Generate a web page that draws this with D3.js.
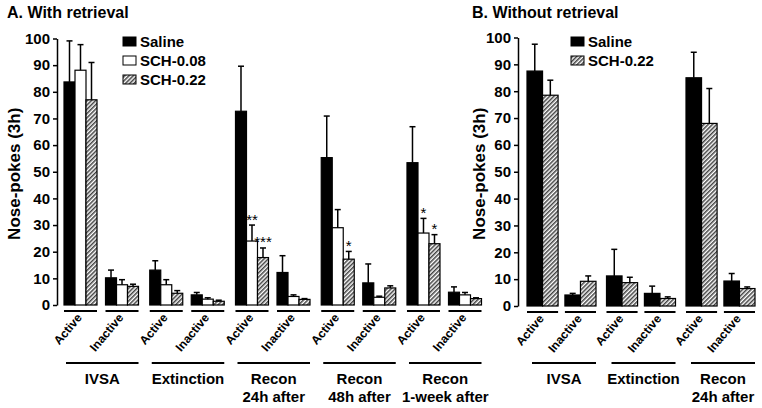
<!DOCTYPE html>
<html><head><meta charset="utf-8">
<script src="https://cdnjs.cloudflare.com/ajax/libs/d3/7.8.5/d3.min.js"></script>
<style>
html,body{margin:0;padding:0;background:#fff;}
svg{display:block;font-family:"Liberation Sans",Arial,sans-serif;}
</style></head>
<body>
<svg id="chart" width="762" height="408"></svg>
<script>
// ---------- DATA ----------
const measures = ["Active", "Inactive"];

// Panel A: With retrieval
const conditionsA = [["IVSA"], ["Extinction"], ["Recon", "24h after"], ["Recon", "48h after"], ["Recon", "1-week after"]];
const seriesA = ["Saline", "SCH-0.08", "SCH-0.22"];
const salineA     = [83.7, 10.2, 13.1, 3.8, 72.7, 12.2, 55.3, 8.3, 53.4, 4.8];
const salineA_sem = [15.4, 2.9, 3.5, 0.9, 16.9, 6.3, 15.6, 7.1, 13.5, 2.0];
const sch008A     = [88.1, 7.6, 7.6, 2.2, 24.0, 3.2, 29.0, 2.9, 27.0, 3.8];
const sch008A_sem = [9.6, 1.9, 1.9, 0.5, 6.0, 0.6, 6.8, 0.4, 5.5, 0.9];
const sch022A     = [77.0, 7.0, 4.4, 1.4, 17.8, 2.1, 17.2, 6.4, 23.0, 2.4];
const sch022A_sem = [14.0, 0.8, 1.0, 0.4, 3.6, 0.3, 2.9, 0.8, 3.4, 0.3];
const starsA = {"SCH-0.08": ["", "", "", "", "**", "", "", "", "*", ""],
                "SCH-0.22": ["", "", "", "", "***", "", "*", "", "*", ""]};

// Panel B: Without retrieval
const conditionsB = [["IVSA"], ["Extinction"], ["Recon", "24h after"]];
const seriesB = ["Saline", "SCH-0.22"];
const salineB     = [87.5, 4.1, 11.2, 4.7, 85.0, 9.3];
const salineB_sem = [10.0, 0.6, 9.9, 2.7, 9.5, 2.8];
const sch022B     = [78.5, 9.2, 8.7, 2.8, 68.0, 6.5];
const sch022B_sem = [5.6, 2.0, 2.0, 0.6, 13.0, 0.6];

const yTicks = [0, 10, 20, 30, 40, 50, 60, 70, 80, 90, 100];

// ---------- DRAW ----------
const svg = d3.select("#chart");
const defs = svg.append("defs");
const pat = defs.append("pattern").attr("id", "hatch")
  .attr("patternUnits", "userSpaceOnUse").attr("width", 3).attr("height", 3)
  .attr("patternTransform", "rotate(45)");
pat.append("rect").attr("width", 3).attr("height", 3).attr("fill", "#fff");
pat.append("line").attr("x1", 0.8).attr("y1", 0).attr("x2", 0.8).attr("y2", 3)
  .attr("stroke", "#222").attr("stroke-width", 1.3);

const fills = {"Saline": "#000", "SCH-0.08": "#fff", "SCH-0.22": "url(#hatch)"};

function panel(cfg) {
  const g = svg.append("g");
  const y = d3.scaleLinear().domain([0, 100]).range([cfg.y0, cfg.y100]);
  const xc = d3.scaleBand().domain(d3.range(cfg.conditions.length))
    .range([cfg.xStart, cfg.xEnd]).paddingInner(cfg.padCond).paddingOuter(0);
  const xm = d3.scaleBand().domain(measures).range([0, xc.bandwidth()])
    .paddingInner(cfg.padMeas).paddingOuter(0);
  const xs = d3.scaleBand().domain(cfg.series).range([0, xm.bandwidth()]);

  // title
  g.append("text").attr("x", cfg.titleX).attr("y", 18).attr("font-size", 16)
    .attr("font-weight", "bold").text(cfg.title);

  // y axis
  const axis = d3.axisLeft(y).tickValues(yTicks).tickSizeInner(4).tickSizeOuter(0).tickPadding(3);
  const ag = g.append("g").attr("transform", `translate(${cfg.axisX},0)`).call(axis);
  ag.select(".domain").attr("stroke-width", 1.5);
  ag.selectAll(".tick line").attr("stroke-width", 1.5);
  ag.selectAll(".tick text").attr("font-size", 15).attr("font-weight", "bold")
    .attr("font-family", "Liberation Sans, Arial, sans-serif").attr("fill", "#000");

  g.append("text").attr("transform", `translate(${cfg.labelX},${(cfg.y0 + cfg.y100) / 2 + 2}) rotate(-90)`)
    .attr("text-anchor", "middle").attr("font-size", 17).attr("font-weight", "bold")
    .text("Nose-pokes (3h)");

  // bars
  cfg.conditions.forEach((cond, ci) => {
    measures.forEach((m, mi) => {
      const idx = ci * 2 + mi;
      const gx = xc(ci) + xm(m);
      cfg.series.forEach((s, si) => {
        const v = cfg.values[si][idx];
        const e = cfg.sems[si][idx];
        const bx = gx + xs(s);
        const bw = xs.bandwidth();
        g.append("rect").attr("x", bx).attr("y", y(v)).attr("width", bw)
          .attr("height", y(0) - y(v)).attr("fill", fills[s])
          .attr("stroke", "#000").attr("stroke-width", 1.2);
        const cx = bx + bw / 2;
        g.append("line").attr("x1", cx).attr("x2", cx).attr("y1", y(v)).attr("y2", y(v + e))
          .attr("stroke", "#000").attr("stroke-width", 1.5);
        g.append("line").attr("x1", cx - 3).attr("x2", cx + 3).attr("y1", y(v + e)).attr("y2", y(v + e))
          .attr("stroke", "#000").attr("stroke-width", 1.5);
        const st = cfg.stars && cfg.stars[s] ? cfg.stars[s][idx] : "";
        if (st) {
          g.append("text").attr("x", cx).attr("y", y(v + e) - 0.5).attr("text-anchor", "middle")
            .attr("font-size", 15).text(st);
        }
      });
      // group underline
      g.append("line").attr("x1", gx).attr("x2", gx + xm.bandwidth())
        .attr("y1", cfg.y0 + 6).attr("y2", cfg.y0 + 6).attr("stroke", "#000").attr("stroke-width", 2);
      // rotated label
      const lx = gx + xm.bandwidth() / 2 + 2;
      g.append("text").attr("transform", `translate(${lx},${cfg.y0 + 13}) rotate(-50)`)
        .attr("text-anchor", "end").attr("font-size", 12).attr("font-weight", "bold").text(m);
    });
    // condition underline & label
    const cx0 = xc(ci), cx1 = xc(ci) + xc.bandwidth();
    g.append("line").attr("x1", cx0 + cfg.condInset).attr("x2", cx1)
      .attr("y1", 363).attr("y2", 363).attr("stroke", "#000").attr("stroke-width", 2);
    cond.forEach((line, li) => {
      g.append("text").attr("x", (cx0 + cfg.condInset + cx1) / 2).attr("y", 384 + li * 18)
        .attr("text-anchor", "middle").attr("font-size", 15).attr("font-weight", "bold").text(line);
    });
  });

  // legend
  cfg.series.forEach((s, i) => {
    const ly = 41 + i * 19;
    g.append("rect").attr("x", cfg.legX).attr("y", ly - 4).attr("width", 13).attr("height", 9)
      .attr("fill", fills[s]).attr("stroke", "#000").attr("stroke-width", 1);
    g.append("text").attr("x", cfg.legX + 17).attr("y", ly + 6).attr("font-size", 15)
      .attr("font-weight", "bold").text(s);
  });
}

panel({
  title: "A. With retrieval", titleX: 7, labelX: 20,
  conditions: conditionsA, series: seriesA,
  values: [salineA, sch008A, sch022A], sems: [salineA_sem, sch008A_sem, sch022A_sem],
  stars: starsA,
  y0: 305, y100: 38.5, axisX: 57,
  xStart: 64, xEnd: 481.5, padCond: 0.131, padMeas: 0.205, condInset: 2,
  legX: 123
});

panel({
  title: "B. Without retrieval", titleX: 472, labelX: 485,
  conditions: conditionsB, series: seriesB,
  values: [salineB, sch022B], sems: [salineB_sem, sch022B_sem],
  y0: 306, y100: 37.5, axisX: 518,
  xStart: 527, xEnd: 755, padCond: 0.132, padMeas: 0.18, condInset: 5,
  legX: 571
});
</script>
</body></html>
